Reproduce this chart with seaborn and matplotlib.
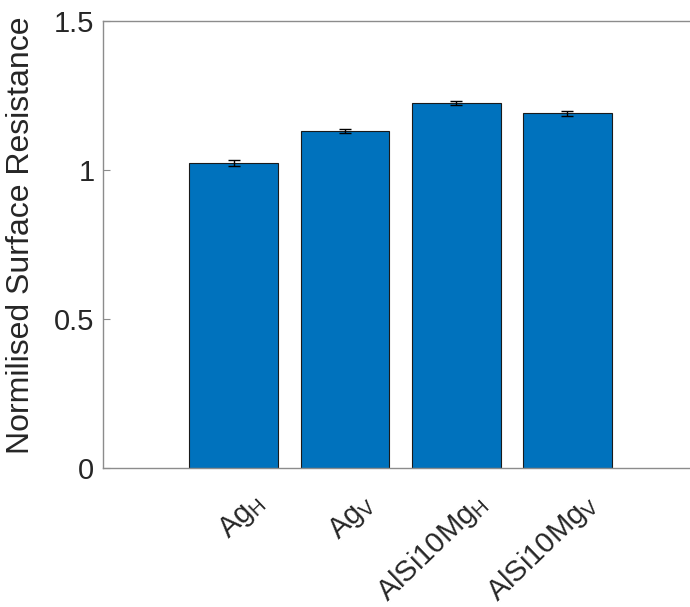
import matplotlib
matplotlib.use("Agg")
import matplotlib.pyplot as plt
import matplotlib.transforms as mtransforms
import seaborn as sns
import pandas as pd

# Measured normalised surface resistance per sample (mean and spread)
samples = ["Ag$_{\\mathrm{H}}$", "Ag$_{\\mathrm{V}}$",
           "AlSi10Mg$_{\\mathrm{H}}$", "AlSi10Mg$_{\\mathrm{V}}$"]
resistance = [1.022, 1.130, 1.224, 1.188]
spread = [0.009, 0.006, 0.006, 0.007]

sns.set_theme(style="white")
plt.rcParams["font.family"] = ["Liberation Sans", "DejaVu Sans"]
plt.rcParams["mathtext.fontset"] = "custom"
plt.rcParams["mathtext.rm"] = "Liberation Sans"
plt.rcParams["mathtext.it"] = "Liberation Sans:italic"
plt.rcParams["mathtext.bf"] = "Liberation Sans:bold"

df = pd.DataFrame({"sample": samples, "value": resistance})

fig = plt.figure(figsize=(6.90, 6.07), dpi=100)
ax = fig.add_axes([0.149, 0.2298, 0.863, 0.7364])

sns.barplot(data=df, x="sample", y="value", color="#0072BD", saturation=1,
            width=0.8, edgecolor="#1a1a1a", linewidth=0.8, ax=ax, errorbar=None)
ax.errorbar(range(len(samples)), resistance, yerr=spread, fmt="none",
            ecolor="black", elinewidth=1.0, capsize=4, capthick=1.0)

ax.set_xlim(-1.18, 4.18)
ax.set_ylim(0, 1.5)
ax.set_yticks([0, 0.5, 1, 1.5])
ax.set_yticklabels(["0", "0.5", "1", "1.5"])
ax.set_xlabel("")
ax.set_ylabel("Normilised Surface Resistance", fontsize=23)
ax.yaxis.set_label_coords(-0.113, 0.52)

for side in ["left", "bottom", "top"]:
    ax.spines[side].set_color("#8c8c8c")
    ax.spines[side].set_linewidth(1.0)
    ax.spines[side].set_visible(True)
ax.spines["right"].set_visible(False)

ax.tick_params(axis="y", direction="in", length=5, width=0.8, color="#8c8c8c",
               labelsize=21, pad=6, left=True)
ax.tick_params(axis="x", length=0, labelsize=21, pad=4)

shift = mtransforms.ScaledTranslation(0.26, -0.26, fig.dpi_scale_trans)
for lbl in ax.get_xticklabels():
    lbl.set_rotation(44)
    lbl.set_ha("right")
    lbl.set_va("center")
    lbl.set_rotation_mode("anchor")
    lbl.set_transform(lbl.get_transform() + shift)

fig.savefig("out.png", dpi=100)
